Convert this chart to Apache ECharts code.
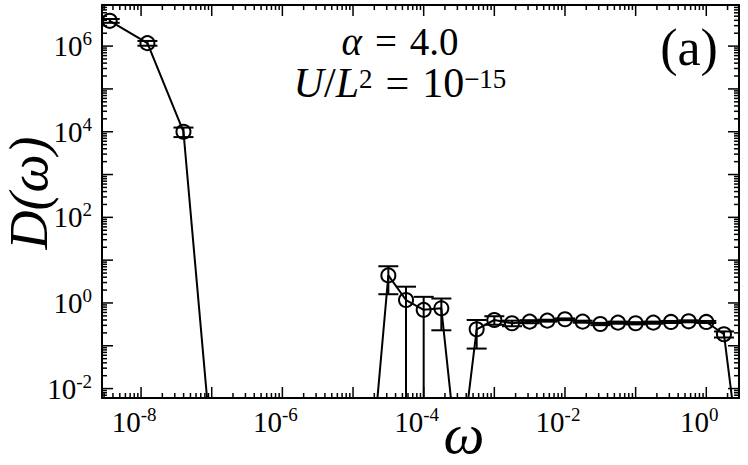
<!DOCTYPE html>
<html><head><meta charset="utf-8">
<script src="https://cdn.jsdelivr.net/npm/echarts@6/dist/echarts.min.js"></script>
<style>html,body{margin:0;padding:0;background:#fff}#c{width:748px;height:465px}</style>
</head><body><div id="c"></div>
<script>
// ---- data ----
const omega = [3.6e-9, 1.23e-8, 3.98e-8, 1.07e-7, 1.778e-5, 3.162e-5, 5.623e-5, 1.0e-4, 1.778e-4, 3.162e-4,
  5.623e-4, 1.0e-3, 1.778e-3, 3.162e-3, 5.623e-3, 1.0e-2, 1.778e-2, 3.162e-2, 5.623e-2, 0.1,
  0.1778, 0.3162, 0.5623, 1.0, 1.778, 3.162];
const D = [3.9e6, 1.17e6, 1.0e4, 1e-4, 1e-4, 4.4, 1.17, 0.69, 0.75, 1e-4,
  0.243, 0.40, 0.336, 0.366, 0.386, 0.416, 0.366, 0.323, 0.347, 0.336,
  0.347, 0.36, 0.373, 0.36, 0.186, 1e-4];
const Derr = [4e5, 1.5e5, 2.5e3, null, null, 2.8, 1.23, 0.70, 0.52, null,
  0.157, 0.09, 0.05, 0.03, 0.02, 0.02, 0.02, 0.02, 0.02, 0.02,
  0.02, 0.02, 0.02, 0.02, 0.03, null];
const xMajorTicks = [1e-8, 1e-7, 1e-6, 1e-5, 1e-4, 1e-3, 1e-2, 1e-1, 1e0];
const yMajorTicks = [1e-2, 1e-1, 1e0, 1e1, 1e2, 1e3, 1e4, 1e5, 1e6];
const minorMultipliers = [2, 3, 4, 5, 6, 7, 8, 9];
const xLabelExps = [-8, -6, -4, -2, 0];
const yLabelExps = [-2, 0, 2, 4, 6];

// ---- axis ranges ----
const X_MIN = Math.pow(10, -8.553), X_MAX = Math.pow(10, 0.463);
const Y_MIN = Math.pow(10, -2.22), Y_MAX = Math.pow(10, 6.96);

function minorTicks(majors, lo, hi) {
  const out = [];
  [majors[0] / 10].concat(majors).forEach(m => minorMultipliers.forEach(k => {
    const v = m * k; if (v > lo && v < hi) out.push(v);
  }));
  return out;
}
const tickData = [];
xMajorTicks.forEach(v => tickData.push([v, Y_MIN, 0, 1]));
minorTicks(xMajorTicks, X_MIN, X_MAX).forEach(v => tickData.push([v, Y_MIN, 0, 0]));
yMajorTicks.forEach(v => tickData.push([X_MIN, v, 1, 1]));
minorTicks(yMajorTicks, Y_MIN, Y_MAX).forEach(v => tickData.push([X_MIN, v, 1, 0]));

const lineData = omega.map((w, i) => [w, D[i]]);
const errData = [];
omega.forEach((w, i) => { if (Derr[i] != null) errData.push([w, D[i] - Derr[i], D[i] + Derr[i]]); });

const SERIF = 'Liberation Serif';
const rich = {
  b: { fontSize: 29, fontFamily: SERIF, color: '#000', lineHeight: 34 },
  s: { fontSize: 19, fontFamily: SERIF, color: '#000', lineHeight: 19, verticalAlign: 'top' }
};
function fmt(exps) {
  return function (v) {
    const l = Math.log10(v), e = Math.round(l);
    if (Math.abs(l - e) > 1e-6 || exps.indexOf(e) < 0) return '';
    return '{b|10}{s|' + e + '}';
  };
}
const blk = { color: '#000', width: 2 };

const chart = echarts.init(document.getElementById('c'), null, { renderer: 'svg' });
chart.setOption({
  animation: false,
  backgroundColor: '#fff',
  grid: { left: 102, right: 9, top: 5, bottom: 67, containLabel: false },
  xAxis: [
    { type: 'log', logBase: 10, min: X_MIN, max: X_MAX, position: 'bottom',
      axisLine: { show: true, lineStyle: blk }, axisTick: { show: false }, splitLine: { show: false }, minorTick: { show: false },
      axisLabel: { formatter: fmt(xLabelExps), rich: rich, margin: 7, padding: [0, 14, 0, 0], showMinLabel: false, showMaxLabel: false, hideOverlap: false } },
    { type: 'log', logBase: 10, min: X_MIN, max: X_MAX, position: 'top',
      axisLine: { show: true, lineStyle: blk }, axisTick: { show: false }, splitLine: { show: false }, axisLabel: { show: false } }
  ],
  yAxis: [
    { type: 'log', logBase: 10, min: Y_MIN, max: Y_MAX, position: 'left',
      axisLine: { show: true, lineStyle: blk }, axisTick: { show: false }, splitLine: { show: false }, minorTick: { show: false },
      axisLabel: { formatter: fmt(yLabelExps), rich: rich, margin: 10, showMinLabel: false, showMaxLabel: false, hideOverlap: false } },
    { type: 'log', logBase: 10, min: Y_MIN, max: Y_MAX, position: 'right',
      axisLine: { show: true, lineStyle: blk }, axisTick: { show: false }, splitLine: { show: false }, axisLabel: { show: false } }
  ],
  graphic: [
    { type: 'text', x: 29, y: 193, rotation: Math.PI / 2,
      style: { text: 'D(ω)', font: 'italic 54px "Liberation Serif"', lineHeight: 46, fill: '#000', textAlign: 'center', textVerticalAlign: 'middle' } },
    { type: 'text', x: 464, y: 433,
      style: { text: 'ω', font: 'italic 58px "Liberation Serif"', lineHeight: 40, fill: '#000', textAlign: 'center', textVerticalAlign: 'middle' } },
    { type: 'text', x: 400, y: 41,
      style: { text: '{i|α}{e|=}{e0|4.0}', textAlign: 'center', textVerticalAlign: 'middle', fill: '#000',
        font: '39px "Liberation Serif"',
        rich: { i: { fontStyle: 'italic', fontSize: 39, fontFamily: SERIF, lineHeight: 30 },
                e: { fontSize: 39, fontFamily: SERIF, padding: [0, 13], lineHeight: 30 },
                e0: { fontSize: 39, fontFamily: SERIF, lineHeight: 30 } } } },
    { type: 'text', x: 400, y: 83,
      style: { text: '{i|U}{e0|/}{i|L}{s|2}{e|=}{e0|10}{s|−15}', textAlign: 'center', textVerticalAlign: 'middle', fill: '#000',
        font: '42px "Liberation Serif"',
        rich: { i: { fontStyle: 'italic', fontSize: 42, fontFamily: SERIF, lineHeight: 36 },
                e: { fontSize: 42, fontFamily: SERIF, padding: [0, 13], lineHeight: 36 },
                e0: { fontSize: 42, fontFamily: SERIF, lineHeight: 36 },
                s: { fontSize: 27, fontFamily: SERIF, lineHeight: 22, verticalAlign: 'top' } } } },
    { type: 'text', x: 689, y: 47,
      style: { text: '(a)', font: '52px "Liberation Serif"', lineHeight: 48, fill: '#000', textAlign: 'center', textVerticalAlign: 'middle' } }
  ],
  series: [
    { type: 'custom', name: 'ticks', coordinateSystem: 'cartesian2d', silent: true, clip: false, z: 5,
      data: tickData,
      renderItem: function (params, api) {
        const isY = api.value(2) === 1, major = api.value(3) === 1;
        const len = major ? 11 : 5;
        const st = { stroke: '#000', lineWidth: 1.5 };
        if (!isY) {
          const v = api.value(0);
          const b = api.coord([v, Y_MIN]), t = api.coord([v, Y_MAX]);
          return { type: 'group', children: [
            { type: 'line', shape: { x1: b[0], y1: b[1], x2: b[0], y2: b[1] - len }, style: st },
            { type: 'line', shape: { x1: t[0], y1: t[1], x2: t[0], y2: t[1] + len }, style: st } ] };
        } else {
          const v = api.value(1);
          const l = api.coord([X_MIN, v]), r = api.coord([X_MAX, v]);
          return { type: 'group', children: [
            { type: 'line', shape: { x1: l[0], y1: l[1], x2: l[0] + len, y2: l[1] }, style: st },
            { type: 'line', shape: { x1: r[0], y1: r[1], x2: r[0] - len, y2: r[1] }, style: st } ] };
        }
      }
    },
    { type: 'custom', name: 'errors', coordinateSystem: 'cartesian2d', silent: true, clip: true, z: 3,
      data: errData, encode: { x: 0, y: [1, 2] },
      renderItem: function (params, api) {
        const x = api.value(0), lo = api.value(1), hi = api.value(2);
        const ph = api.coord([x, hi]);
        const pl = lo > Y_MIN ? api.coord([x, lo]) : api.coord([x, Y_MIN]);
        const w = 10, st = { stroke: '#000', lineWidth: 2 };
        const ch = [
          { type: 'line', shape: { x1: ph[0], y1: ph[1], x2: pl[0], y2: pl[1] }, style: st },
          { type: 'line', shape: { x1: ph[0] - w, y1: ph[1], x2: ph[0] + w, y2: ph[1] }, style: st }
        ];
        if (lo > Y_MIN) ch.push({ type: 'line', shape: { x1: pl[0] - w, y1: pl[1], x2: pl[0] + w, y2: pl[1] }, style: st });
        return { type: 'group', children: ch };
      }
    },
    { type: 'line', name: 'D', data: lineData, clip: true, z: 4,
      symbol: 'circle', symbolSize: 14, showAllSymbol: true,
      lineStyle: { color: '#000', width: 2 },
      itemStyle: { color: 'rgba(0,0,0,0)', borderColor: '#000', borderWidth: 2 } }
  ]
});
</script></body></html>
